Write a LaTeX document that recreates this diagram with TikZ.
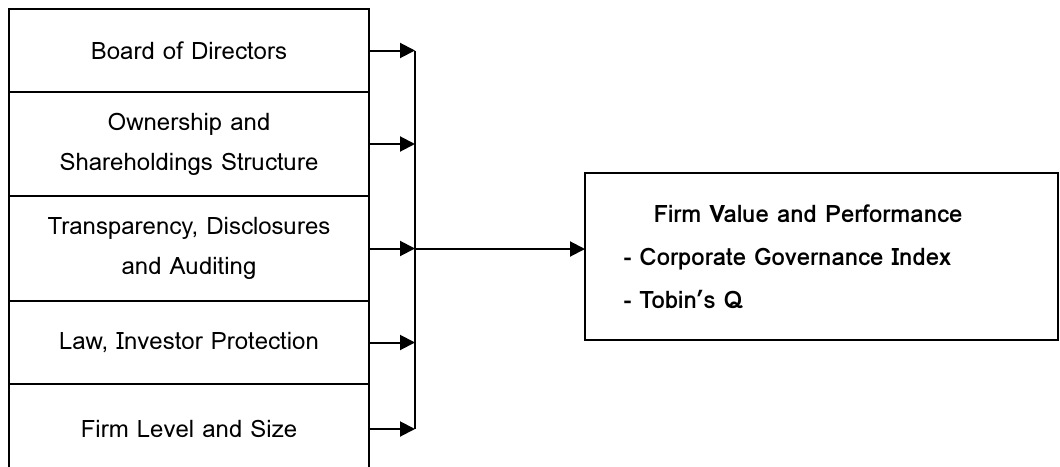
\documentclass[tikz,border=0pt]{standalone}
\usepackage{fontspec}
\setmainfont{Loma}
\usetikzlibrary{arrows.meta,positioning,calc}
\tikzset{
  fbox/.style={draw=black,line width=1pt,minimum width=180pt,align=center,inner sep=0pt,outer sep=0pt,font=\fontsize{12}{20}\selectfont},
  obox/.style={draw=black,line width=1pt,minimum width=236.5pt,minimum height=83.5pt,align=left,text width=198pt,inner xsep=19pt,inner ysep=0pt,outer sep=0pt,font=\bfseries\fontsize{12}{21.5}\selectfont},
  farr/.style={-{Triangle[length=7.5pt,width=7.5pt]},line width=1pt},
  fline/.style={line width=1pt}
}
\begin{document}
\begin{tikzpicture}[x=0.5pt,y=-0.5pt]
  \useasboundingbox (0,0) rectangle (1060,466);
  % factor boxes
  \node[fbox,minimum height=41.5pt,anchor=north west] (board) at (9,9) {Board of Directors};
  \node[fbox,minimum height=52pt,below=0pt of board] (owner) {Ownership and\\Shareholdings Structure};
  \node[fbox,minimum height=52.5pt,below=0pt of owner] (transp) {Transparency, Disclosures\\and Auditing};
  \node[fbox,minimum height=41.5pt,below=0pt of transp] (law) {Law, Investor Protection};
  \node[fbox,minimum height=45pt,below=0pt of law] (size) {Firm Level and Size};
  % outcome box
  \node[obox,anchor=north west] (value) at (585,173) {\hspace*{15pt}Firm Value and Performance\\- Corporate Governance Index\\- Tobin’s Q};
  % connectors
  \coordinate (bus) at (415,249);
  \foreach \n in {board,owner,transp,law,size}{
    \draw[farr] (\n.east) -- (\n.east -| bus);
  }
  \draw[fline] (board.east -| bus) -- (size.east -| bus);
  \draw[farr] (bus) -- (bus -| value.west);
\end{tikzpicture}
\end{document}
